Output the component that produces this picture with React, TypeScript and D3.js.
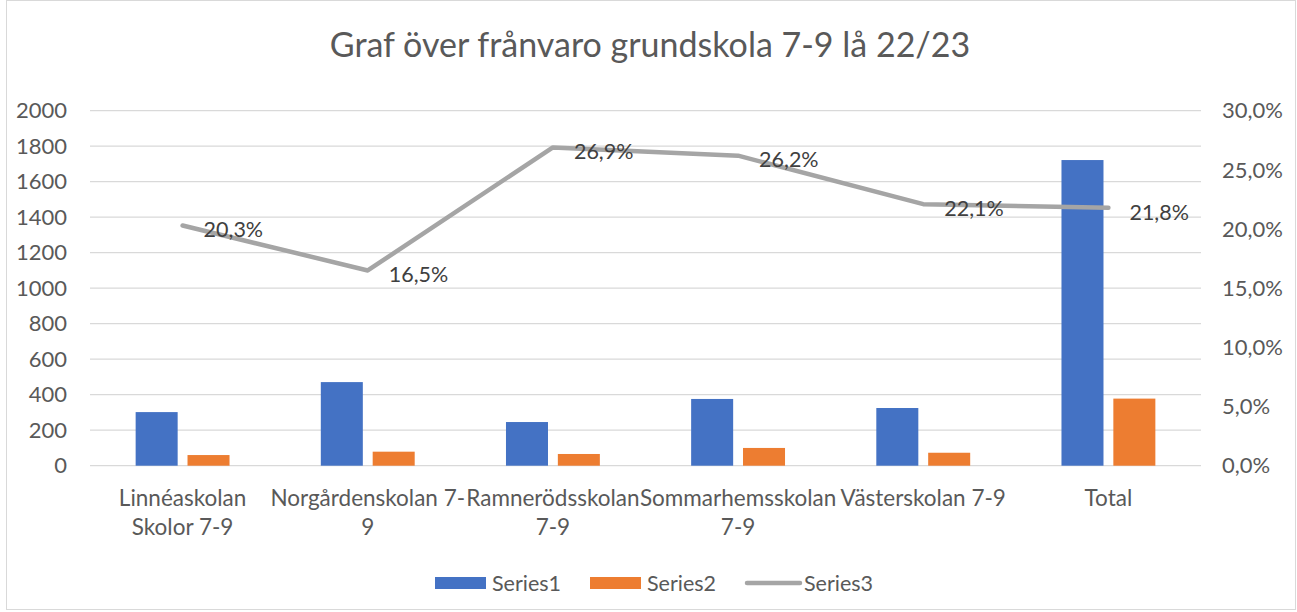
import React from "react";
import * as d3 from "d3";

const categories = [
  "Linnéaskolan Skolor 7-9",
  "Norgårdenskolan 7-9",
  "Ramnerödsskolan 7-9",
  "Sommarhemsskolan 7-9",
  "Västerskolan 7-9",
  "Total",
];
const categoryLabelLines = [
  ["Linnéaskolan", "Skolor 7-9"],
  ["Norgårdenskolan 7-", "9"],
  ["Ramnerödsskolan", "7-9"],
  ["Sommarhemsskolan", "7-9"],
  ["Västerskolan 7-9"],
  ["Total"],
];
const series1 = [302, 471, 246, 376, 325, 1722];
const series2 = [60, 79, 66, 100, 73, 378];
const series3 = [0.203, 0.165, 0.269, 0.262, 0.221, 0.218];
const leftTicks = [0, 200, 400, 600, 800, 1000, 1200, 1400, 1600, 1800, 2000];
const rightTicks = [0, 0.05, 0.1, 0.15, 0.2, 0.25, 0.3];
const seriesNames = ["Series1", "Series2", "Series3"];
const title = "Graf över frånvaro grundskola 7-9 lå 22/23";

const W = 1297;
const H = 612;
const M = { left: 90, right: 1201, top: 110.7, bottom: 465.7 };
const FONT = "Lato, 'Open Sans', sans-serif";
const TXT = "#595959";
const C1 = "#4472c4";
const C2 = "#ed7d31";
const C3 = "#a5a5a5";
const GRID = "#d9d9d9";

const sv = d3.formatLocale({
  decimal: ",",
  thousands: " ",
  grouping: [3],
  currency: ["", " kr"],
  percent: "%",
});
const pct = sv.format(".1%");

export default function App() {
  const x = d3.scaleBand<string>().domain(categories).range([M.left, M.right]).padding(0);
  const x1 = d3
    .scaleBand<string>()
    .domain(["Series1", "Series2"])
    .range([0, x.bandwidth()])
    .paddingInner(0.19)
    .paddingOuter(0.88);
  const yL = d3.scaleLinear().domain([0, 2000]).range([M.bottom, M.top]);
  const yR = d3.scaleLinear().domain([0, 0.3]).range([M.bottom, M.top]);
  const cx = (c: string) => (x(c) as number) + x.bandwidth() / 2;

  const line = d3
    .line<number>()
    .x((_, i) => cx(categories[i]))
    .y((d) => yR(d));

  const legendStart = 435;
  const legendStep = 155;

  return (
    <svg
      width={W}
      height={H}
      style={{ position: "absolute", left: 0, top: 0, background: "#fff" }}
      fontFamily={FONT}
    >
      <rect x={0} y={0} width={W} height={H} fill="#fff" />
      <rect x={6.5} y={0.5} width={1289} height={609} fill="none" stroke={GRID} />
      <text x={650} y={57} textAnchor="middle" fontSize={34} fill={TXT}>
        {title}
      </text>

      {leftTicks.map((t) => (
        <line key={"g" + t} x1={M.left} x2={M.right} y1={yL(t)} y2={yL(t)} stroke={GRID} strokeWidth={1.3} />
      ))}
      {leftTicks.map((t) => (
        <text key={"l" + t} x={67} y={yL(t)} dy="0.35em" textAnchor="end" fontSize={22} fill={TXT}>
          {t}
        </text>
      ))}
      {rightTicks.map((t) => (
        <text key={"r" + t} x={1222} y={yR(t)} dy="0.35em" textAnchor="start" fontSize={22} fill={TXT}>
          {pct(t)}
        </text>
      ))}

      {categories.map((c, i) => (
        <g key={c}>
          <rect
            x={(x(c) as number) + (x1("Series1") as number)}
            width={x1.bandwidth()}
            y={yL(series1[i])}
            height={yL(0) - yL(series1[i])}
            fill={C1}
          />
          <rect
            x={(x(c) as number) + (x1("Series2") as number)}
            width={x1.bandwidth()}
            y={yL(series2[i])}
            height={yL(0) - yL(series2[i])}
            fill={C2}
          />
        </g>
      ))}

      <path d={line(series3) || ""} fill="none" stroke={C3} strokeWidth={4.5} strokeLinecap="round" strokeLinejoin="round" />
      {series3.map((v, i) => (
        <text key={"d" + i} x={cx(categories[i]) + 21} y={yR(v)} dy="0.55em" fontSize={21.5} fill="#404040">
          {pct(v)}
        </text>
      ))}

      {categories.map((c, i) =>
        categoryLabelLines[i].map((ln, j) => (
          <text key={c + j} x={cx(c)} y={498 + j * 29} dy="0.35em" textAnchor="middle" fontSize={22.5} fill={TXT}>
            {ln}
          </text>
        ))
      )}

      {seriesNames.map((s, i) => {
        const lx = legendStart + i * legendStep;
        return (
          <g key={s}>
            {i < 2 ? (
              <rect x={lx} y={577} width={51} height={12} fill={i === 0 ? C1 : C2} />
            ) : (
              <line x1={lx + 2} x2={lx + 55} y1={583} y2={583} stroke={C3} strokeWidth={4.5} strokeLinecap="round" />
            )}
            <text x={lx + (i < 2 ? 57 : 59)} y={583} dy="0.35em" fontSize={21.5} fill={TXT}>
              {s}
            </text>
          </g>
        );
      })}
    </svg>
  );
}
